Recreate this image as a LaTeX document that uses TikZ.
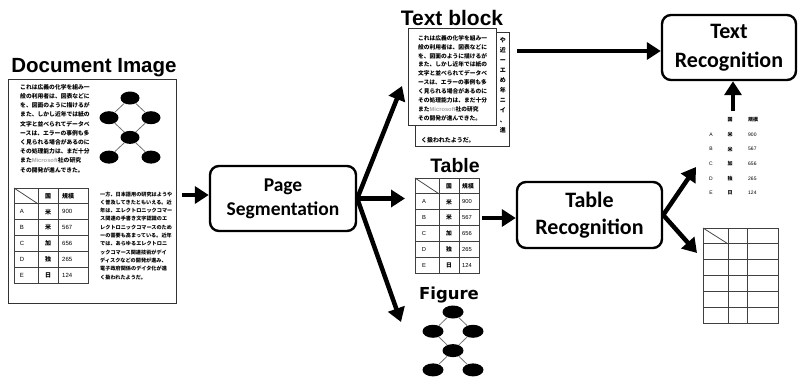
\documentclass[tikz,border=0pt]{standalone}
\usepackage{fontspec}
\usetikzlibrary{arrows.meta,shapes.geometric}
\newfontfamily\titlefont{Liberation Sans}
\newfontfamily\tabfont{Liberation Sans}
\newfontfamily\boxfont{Carlito}
\newfontfamily\figfont{DejaVu Sans}
\newfontfamily\jp{Noto Sans CJK JP}

% body text of the sample page (left column and right column)
\newcommand\lefttext{%
これは広義の化学を組み一\\
般の利用者は、図表などに\\
を、図面のように描けるが\\
また、しかし近年では紙の\\
文字と並べられてデータベ\\
ースは、エラーの事例も多\\
く見られる場合があるのに\\
その処理能力は、まだ十分\\
また{\tabfont\color{black!35}Microsoft}社の研究\\
その開発が進んできた。}
\newcommand\righttext{%
一方、日本語用の研究はようや\\
く普及してきたともいえる。近\\
年は、エレクトロニックコマー\\
ス関連の手書き文字認識のエ\\
レクトロニックコマースのため\\
ーの需要も高まっている。近年\\
では、あらゆるエレクトロニ\\
ックコマース関連技術がデイ\\
ディスクなどの開発が進み、\\
電子政府関係のデイタ化が進\\
く扱われたようだ。}

% small tree of filled ellipses: prefix, x, y of top node, dx, dy, width, height
\newcommand\netgraph[7]{%
  \node[blob,minimum width=#6,minimum height=#7] (#1t) at (#2,#3) {};
  \node[blob,minimum width=#6,minimum height=#7] (#1l) at (#2-#4,#3+#5) {};
  \node[blob,minimum width=#6,minimum height=#7] (#1r) at (#2+#4,#3+#5) {};
  \node[blob,minimum width=#6,minimum height=#7] (#1c) at (#2,#3+2*#5) {};
  \node[blob,minimum width=#6,minimum height=#7] (#1bl) at (#2-#4,#3+3*#5) {};
  \node[blob,minimum width=#6,minimum height=#7] (#1br) at (#2+#4,#3+3*#5) {};
  \draw[netedge] (#1t) -- (#1l) (#1t) -- (#1r) (#1l) -- (#1c) (#1r) -- (#1c)
                 (#1c) -- (#1bl) (#1c) -- (#1br);
}

% ruled table with 3 columns, 6 rows and a diagonal header cell
\newcommand\gridtab[6]{%
  \draw[gridline] (#1,#5) rectangle (#4,#6);
  \draw[gridline] (#2,#5) -- (#2,#6) (#3,#5) -- (#3,#6);
  \foreach \k in {1,...,5}
    \draw[gridline] (#1,{#5+\k*(#6-#5)/6}) -- (#4,{#5+\k*(#6-#5)/6});
  \draw[gridline] (#1,#5) -- (#2,{#5+(#6-#5)/6});
}

% table entries: prefix, x letter, x kanji, x number (west), y header, row step, size
\newcommand\tabrows[7]{%
  \node[tabtxt,font=\jp\bfseries\fontsize{#7}{#7}\selectfont] (#1hk) at (#3,#5) {国};
  \node[tabtxt,anchor=west,font=\jp\bfseries\fontsize{#7}{#7}\selectfont] (#1hn) at (#4,#5) {規模};
  \foreach \L/\K/\N [count=\i] in {A/米/900,B/米/567,C/加/656,D/独/265,E/日/124}{
    \node[tabtxt,font=\tabfont\fontsize{#7}{#7}\selectfont] (#1l\i) at (#2,{#5+\i*#6}) {\L};
    \node[tabtxt,font=\jp\bfseries\fontsize{#7}{#7}\selectfont] (#1k\i) at (#3,{#5+\i*#6}) {\K};
    \node[tabtxt,anchor=west,font=\tabfont\fontsize{#7}{#7}\selectfont] (#1n\i) at (#4,{#5+\i*#6}) {\N};
  }%
}

\begin{document}
\begin{tikzpicture}[x=1pt,y=-1pt,
  ttl/.style={font=\titlefont\bfseries\fontsize{20.5}{24}\selectfont, inner sep=0, anchor=base},
  procbox/.style={draw, line width=2.4pt, rounded corners=9pt, fill=white, align=center, inner sep=0},
  arr/.style={line width=4.5pt, -{Triangle[length=14pt,width=17pt]}},
  sheet/.style={draw=black!80, line width=0.8pt, fill=white, inner sep=0},
  gridline/.style={draw=black!75, line width=0.75pt},
  blob/.style={ellipse, fill=black, inner sep=0},
  netedge/.style={draw=black!55, line width=0.8pt},
  jtxt/.style={inner sep=0, anchor=north west, align=left},
  tabtxt/.style={inner sep=0},
]
\useasboundingbox (0,0) rectangle (798,378);

% ---------- input document ----------
\node[ttl] (doctitle) at (94,72) {Document Image};
\node[sheet, minimum width=168, minimum height=224] (docpage) at (92.5,191) {};
\node[jtxt, font=\jp\bfseries\fontsize{5.8}{9.2}\selectfont] (docleft) at (20,84.2) {\lefttext};
\netgraph{dg}{130}{98}{21}{19.7}{19}{13}
\gridtab{14}{38}{58}{88}{188}{283}
\tabrows{dt}{22}{48}{62}{196}{15.83}{6}
\node[jtxt, font=\jp\bfseries\fontsize{5.15}{8.3}\selectfont] (docright) at (100,191.4) {\righttext};

% ---------- page segmentation ----------
\node[procbox, minimum width=146, minimum height=65, font=\boxfont\bfseries\fontsize{19.5}{24}\selectfont]
  (pageseg) at (283,198.5) {Page\\Segmentation};
\coordinate (docout) at (182,195);
\draw[arr] (docout) -- (docout -| pageseg.west);

\coordinate (tbin) at (402,86);
\coordinate (tabin) at (405,198.5);
\coordinate (figin) at (401,322);
\draw[arr] (pageseg.east) -- (tbin);
\draw[arr] (pageseg.east) -- (tabin);
\draw[arr] (pageseg.east) -- (figin);

% ---------- text block: second sheet peeking out behind the first ----------
\node[ttl, font=\titlefont\bfseries\fontsize{21}{24}\selectfont] (tbtitle) at (452,25) {Text block};
\node[sheet, minimum width=94, minimum height=114] (tbback) at (462,89) {};
\node[jtxt, anchor=north east, align=right, font=\jp\bfseries\fontsize{6}{10}\selectfont]
  (tbbackcol) at (506,37) {や\\近\\ー\\エ\\め\\年\\ニ\\イ\\、\\進};
\node[jtxt, font=\jp\bfseries\fontsize{6}{10}\selectfont] (tbbackend) at (421,137) {く扱われたようだ。};
\node[sheet, minimum width=88, minimum height=97] (tbfront) at (452,76.5) {};
\node[jtxt, font=\jp\bfseries\fontsize{5.75}{8.9}\selectfont] (tbfronttext) at (418,35.1) {\lefttext};

% ---------- table ----------
\node[ttl, font=\titlefont\bfseries\fontsize{19.5}{24}\selectfont] (tabtitle) at (455,172) {Table};
\gridtab{415}{439}{459}{479}{178}{273}
\tabrows{mt}{424}{449}{462}{186}{15.83}{5.8}

% ---------- figure ----------
\node[ttl, font=\figfont\bfseries\fontsize{16.5}{24}\selectfont] (figtitle) at (449,299) {Figure};
\netgraph{fg}{453}{312}{20}{19.3}{21}{13}

% ---------- recognition stages ----------
\node[procbox, minimum width=134, minimum height=65, font=\boxfont\bfseries\fontsize{22}{29}\selectfont]
  (textrec) at (729,47.5) {Text\\Recognition};
\node[procbox, minimum width=145, minimum height=66, font=\boxfont\bfseries\fontsize{22}{27}\selectfont]
  (tablerec) at (589.5,215) {Table\\Recognition};

\coordinate (tbout) at (517,51);
\draw[arr] (tbout) -- (tbout -| textrec.west);
\coordinate (tabout) at (482,218);
\draw[arr] (tabout) -- (tabout -| tablerec.west);

% recognised cell contents and recognised ruling
\tabrows{rt}{711}{730}{748}{120}{14.6}{5}
\gridtab{703}{728}{747}{778}{228}{323}

\coordinate (rtin) at (696,167);
\coordinate (gtin) at (697,253);
\draw[arr] (tablerec.east) -- (rtin);
\draw[arr] (tablerec.east) -- (gtin);

\coordinate (rtout) at (733,111);
\draw[arr] (rtout) -- (rtout |- textrec.south);
\end{tikzpicture}
\end{document}
